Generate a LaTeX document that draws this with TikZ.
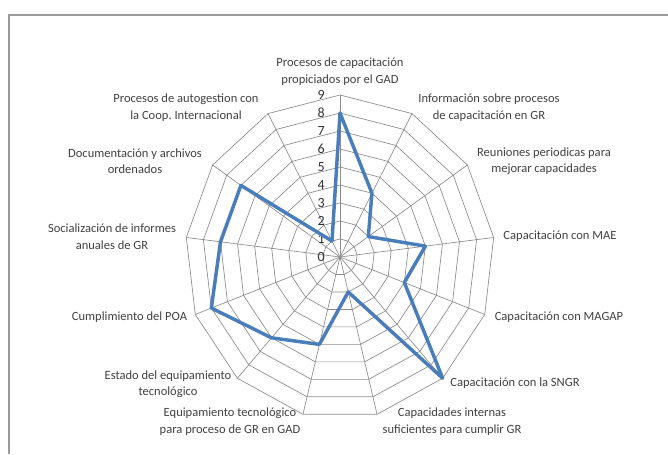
\documentclass[tikz,border=0pt]{standalone}
\usepackage{fontspec}
\setmainfont{Carlito}
\definecolor{serieblue}{HTML}{4A7EBB}
\definecolor{gridgray}{HTML}{8C8C8C}
\definecolor{framegray}{HTML}{9A9A9A}
\definecolor{labeltext}{HTML}{404040}
\tikzset{
  lbl/.style={font=\fontsize{9.4}{12.4}\selectfont, align=center, text=labeltext, inner sep=0pt},
  ticknum/.style={font=\fontsize{10.5}{12}\selectfont, text=black!80, inner sep=0pt, anchor=east},
  gridline/.style={draw=gridgray, line width=0.5pt},
  serie/.style={draw=serieblue, line width=2.6pt, line join=round},
}

\begin{document}
\begin{tikzpicture}[x=0.75pt,y=0.75pt]
\useasboundingbox (0,0) rectangle (668,454);
\draw[framegray, line width=1.1pt] (9,0) -- (9,439) -- (668,439);

% radar, centre at (340,197)
\begin{scope}[shift={(255pt,147.75pt)}, x=12.9pt, y=13.5pt]
  \foreach \r in {1,...,9}
    \draw[gridline] (90:\r) \foreach \k in {1,...,12}{ -- ({90-\k*360/13}:\r)} -- cycle;
  \foreach \k in {0,...,12}
    \draw[gridline] (0,0) -- ({90-\k*360/13}:9) coordinate (ax\k);
  \foreach \n in {0,...,9}
    \node[ticknum] (t\n) at (-0.87,\n) {\n};
  \foreach \v [count=\k from 0] in {8,4,2,5,4,9,2,5,6,8,7,7,1}
    \coordinate (p\k) at ({90-\k*360/13}:\v);
  \draw[serie] (p0) -- (p1) -- (p2) -- (p3) -- (p4) -- (p5) -- (p6)
    -- (p7) -- (p8) -- (p9) -- (p10) -- (p11) -- (p12) -- cycle;
\end{scope}

\node[lbl] (gad) at (340,382.5) {Procesos de capacitación\\propiciados por el GAD};
\node[lbl] (info) at (489,346.5) {Información sobre procesos\\de capacitación en GR};
\node[lbl] (reun) at (544,293) {Reuniones periodicas para\\mejorar capacidades};
\node[lbl] (mae) at (560,218) {Capacitación con MAE};
\node[lbl] (magap) at (559,137) {Capacitación con MAGAP};
\node[lbl] (sngr) at (515,71) {Capacitación con la SNGR};
\node[lbl] (capint) at (452,32.5) {Capacidades internas\\suficientes para cumplir GR};
\node[lbl] (equip) at (230,32.5) {Equipamiento tecnológico\\para proceso de GR en GAD};
\node[lbl] (estado) at (168,70) {Estado del equipamiento\\tecnológico};
\node[lbl] (poa) at (129.5,137) {Cumplimiento del POA};
\node[lbl] (social) at (112,217.5) {Socialización de informes\\anuales de GR};
\node[lbl] (docu) at (135,293) {Documentación y archivos\\ordenados};
\node[lbl] (autog) at (186,346.5) {Procesos de autogestion con\\la Coop.\ Internacional};
\end{tikzpicture}
\end{document}
